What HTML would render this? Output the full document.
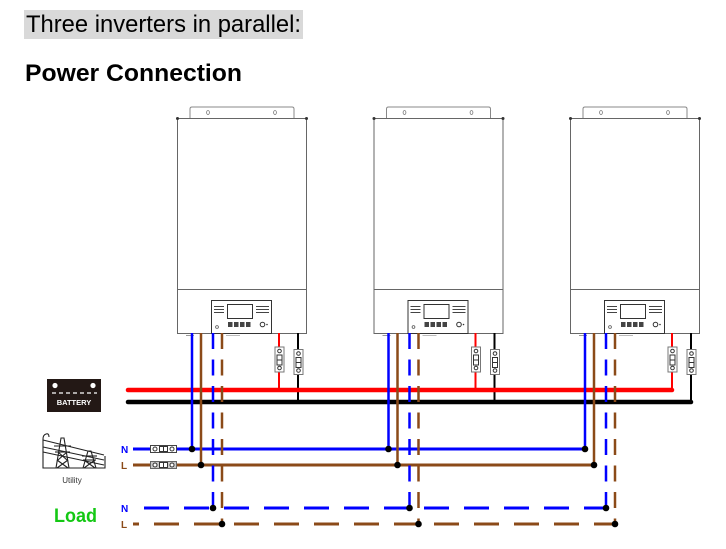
<!DOCTYPE html>
<html><head><meta charset="utf-8"><style>
html,body{margin:0;padding:0;background:#fff;width:726px;height:549px;overflow:hidden}
svg{display:block}
</style></head><body>
<svg width="726" height="549" viewBox="0 0 726 549" xmlns="http://www.w3.org/2000/svg" font-family="'Liberation Sans', sans-serif">
<defs>
<g id="inv">
  <path d="M190,118 V109 Q190,107 192,107 H292 Q294,107 294,109 V118" fill="#fff" stroke="#888" stroke-width="1"/>
  <ellipse cx="208" cy="112.5" rx="1.4" ry="2" fill="none" stroke="#777" stroke-width="0.8"/>
  <ellipse cx="275" cy="112.5" rx="1.4" ry="2" fill="none" stroke="#777" stroke-width="0.8"/>
  <rect x="177.5" y="118.5" width="129" height="215" fill="#fff" stroke="#666" stroke-width="1"/>
  <line x1="177" y1="289.5" x2="307" y2="289.5" stroke="#666" stroke-width="1"/>
  <circle cx="177.5" cy="118.5" r="1.5" fill="#333"/>
  <circle cx="306.5" cy="118.5" r="1.5" fill="#333"/>
  <rect x="211.5" y="300.5" width="60" height="33" fill="#fff" stroke="#333" stroke-width="1"/>
  <rect x="227.5" y="304.5" width="25" height="14" fill="#fff" stroke="#333" stroke-width="1"/>
  <g stroke="#444" stroke-width="1">
    <line x1="214" y1="306.5" x2="224" y2="306.5"/>
    <line x1="214" y1="309.5" x2="224" y2="309.5"/>
    <line x1="214" y1="312.5" x2="224" y2="312.5"/>
    <line x1="256" y1="306.5" x2="269" y2="306.5"/>
    <line x1="256" y1="309.5" x2="269" y2="309.5"/>
    <line x1="256" y1="312.5" x2="269" y2="312.5"/>
  </g>
  <g fill="#444">
    <rect x="228" y="322" width="4.5" height="5"/>
    <rect x="234" y="322" width="4.5" height="5"/>
    <rect x="240" y="322" width="4.5" height="5"/>
    <rect x="246" y="322" width="4.5" height="5"/>
  </g>
  <circle cx="262.5" cy="324.5" r="2.3" fill="none" stroke="#333" stroke-width="1"/>
  <circle cx="267" cy="324.5" r="0.8" fill="#333"/>
  <circle cx="217" cy="327" r="1.4" fill="none" stroke="#555" stroke-width="0.8"/>
  <line x1="186" y1="335.5" x2="194" y2="335.5" stroke="#999" stroke-width="1"/>
  <line x1="226" y1="335.5" x2="240" y2="335.5" stroke="#bbb" stroke-width="1"/>
</g>
<g id="brk">
  <rect x="-4.5" y="0" width="9" height="25" fill="#fff" stroke="#777" stroke-width="1"/>
  <circle cx="0" cy="4" r="1.8" fill="none" stroke="#333" stroke-width="1"/>
  <rect x="-2.5" y="8" width="5" height="10" fill="#fff" stroke="#333" stroke-width="1"/>
  <line x1="-2.5" y1="13" x2="2.5" y2="13" stroke="#333" stroke-width="1"/>
  <circle cx="0" cy="21" r="1.8" fill="none" stroke="#333" stroke-width="1"/>
</g>
</defs>

<!-- Titles -->
<rect x="24" y="10" width="279" height="29" fill="#d9d9d9"/>
<text x="26" y="32" font-size="24" fill="#000" textLength="275" lengthAdjust="spacingAndGlyphs">Three inverters in parallel:</text>
<text x="25" y="81" font-size="24" font-weight="bold" fill="#000" textLength="217" lengthAdjust="spacingAndGlyphs">Power Connection</text>

<!-- Inverters -->
<use href="#inv"/>
<use href="#inv" transform="translate(196.5,0)"/>
<use href="#inv" transform="translate(393,0)"/>

<!-- battery drops -->
<g stroke-width="2">
  <line x1="279" y1="333" x2="279" y2="390" stroke="#f00"/>
  <line x1="298" y1="333" x2="298" y2="402" stroke="#000"/>
  <line x1="475.5" y1="333" x2="475.5" y2="390" stroke="#f00"/>
  <line x1="494.5" y1="333" x2="494.5" y2="402" stroke="#000"/>
  <line x1="672" y1="333" x2="672" y2="390" stroke="#f00"/>
  <line x1="691" y1="333" x2="691" y2="402" stroke="#000"/>
</g>
<use href="#brk" transform="translate(279.5,347)"/>
<use href="#brk" transform="translate(298.5,349.5)"/>
<use href="#brk" transform="translate(476,347)"/>
<use href="#brk" transform="translate(495,349.5)"/>
<use href="#brk" transform="translate(672.5,347)"/>
<use href="#brk" transform="translate(691.5,349.5)"/>

<!-- Buses -->
<line x1="128" y1="390" x2="672" y2="390" stroke="#f00" stroke-width="4.5" stroke-linecap="round"/>
<line x1="128" y1="402" x2="691" y2="402" stroke="#000" stroke-width="4.5" stroke-linecap="round"/>

<!-- Utility N/L -->
<line x1="133" y1="449" x2="586" y2="449" stroke="#0000ff" stroke-width="3"/>
<line x1="133" y1="465" x2="595" y2="465" stroke="#8b4a18" stroke-width="3"/>

<!-- Load N/L dashed -->
<line x1="144" y1="508" x2="609" y2="508" stroke="#0000ff" stroke-width="3" stroke-dasharray="25 15"/>
<line x1="133" y1="524" x2="618" y2="524" stroke="#8b4a18" stroke-width="3" stroke-dasharray="25 15" stroke-dashoffset="19"/>

<!-- Verticals -->
<g stroke-width="2.5">
  <line x1="192" y1="333" x2="192" y2="449" stroke="#0000ff"/>
  <line x1="201" y1="333" x2="201" y2="465" stroke="#8b4a18"/>
  <line x1="213" y1="333" x2="213" y2="508" stroke="#0000ff" stroke-dasharray="16 10.5"/>
  <line x1="222" y1="333" x2="222" y2="524" stroke="#8b4a18" stroke-dasharray="16 10.5"/>

  <line x1="388.5" y1="333" x2="388.5" y2="449" stroke="#0000ff"/>
  <line x1="397.5" y1="333" x2="397.5" y2="465" stroke="#8b4a18"/>
  <line x1="409.5" y1="333" x2="409.5" y2="508" stroke="#0000ff" stroke-dasharray="16 10.5"/>
  <line x1="418.5" y1="333" x2="418.5" y2="524" stroke="#8b4a18" stroke-dasharray="16 10.5"/>

  <line x1="585" y1="333" x2="585" y2="449" stroke="#0000ff"/>
  <line x1="594" y1="333" x2="594" y2="465" stroke="#8b4a18"/>
  <line x1="606" y1="333" x2="606" y2="508" stroke="#0000ff" stroke-dasharray="16 10.5"/>
  <line x1="615" y1="333" x2="615" y2="524" stroke="#8b4a18" stroke-dasharray="16 10.5"/>
</g>

<!-- Junction dots -->
<g fill="#000">
  <circle cx="192" cy="449" r="3.3"/>
  <circle cx="201" cy="465" r="3.3"/>
  <circle cx="213" cy="508" r="3.3"/>
  <circle cx="222" cy="524" r="3.3"/>
  <circle cx="388.5" cy="449" r="3.3"/>
  <circle cx="397.5" cy="465" r="3.3"/>
  <circle cx="409.5" cy="508" r="3.3"/>
  <circle cx="418.5" cy="524" r="3.3"/>
  <circle cx="585" cy="449" r="3.3"/>
  <circle cx="594" cy="465" r="3.3"/>
  <circle cx="606" cy="508" r="3.3"/>
  <circle cx="615" cy="524" r="3.3"/>
</g>

<!-- Utility breakers -->
<g>
  <rect x="150.5" y="445.5" width="26" height="7" fill="#fff" stroke="#444" stroke-width="1"/>
  <circle cx="155" cy="449" r="2" fill="none" stroke="#333" stroke-width="1"/>
  <rect x="159.5" y="446.5" width="8" height="5" fill="#fff" stroke="#333" stroke-width="1"/>
  <line x1="163.5" y1="446.5" x2="163.5" y2="451.5" stroke="#333" stroke-width="1"/>
  <circle cx="172" cy="449" r="2" fill="none" stroke="#333" stroke-width="1"/>

  <rect x="150.5" y="461.5" width="26" height="7" fill="#c8c8c8" stroke="#666" stroke-width="1"/>
  <circle cx="155" cy="465" r="2" fill="#fff" stroke="#333" stroke-width="1"/>
  <rect x="159.5" y="462.5" width="8" height="5" fill="#fff" stroke="#333" stroke-width="1"/>
  <line x1="163.5" y1="462.5" x2="163.5" y2="467.5" stroke="#333" stroke-width="1"/>
  <circle cx="172" cy="465" r="2" fill="#fff" stroke="#333" stroke-width="1"/>
</g>

<!-- N / L labels -->
<g font-size="10" font-weight="bold">
  <text x="121" y="453" fill="#0000ff">N</text>
  <text x="121" y="469" fill="#8b4a18">L</text>
  <text x="121" y="512" fill="#0000ff">N</text>
  <text x="121" y="528" fill="#8b4a18">L</text>
</g>

<!-- Battery icon -->
<rect x="47" y="379" width="54" height="33" fill="#231815"/>
<circle cx="55" cy="385.5" r="2.6" fill="#fff"/>
<circle cx="93" cy="385.5" r="2.6" fill="#fff"/>
<line x1="52" y1="393" x2="97" y2="393" stroke="#fff" stroke-width="1.2" stroke-dasharray="4 3"/>
<text x="74" y="405" font-size="7.5" font-weight="bold" fill="#fff" text-anchor="middle">BATTERY</text>

<!-- Utility icon -->
<g stroke="#222" stroke-width="1.1" fill="none">
  <path d="M46,434 Q43,435 43,439 V468 H105 V456"/>
  <path d="M46,434 Q49,433 49,437"/>
  <line x1="43" y1="440" x2="104" y2="455"/>
  <line x1="43" y1="447" x2="104" y2="460"/>
  <line x1="43" y1="452" x2="104" y2="465"/>
  <!-- pylon 1 -->
  <path d="M56,468 L61,438 H64 L69,468"/>
  <line x1="54" y1="446" x2="71" y2="446"/>
  <line x1="55" y1="452" x2="70" y2="452"/>
  <path d="M58,460 L67,452 M67,460 L58,452 M57,468 L68,460 M68,468 L57,460"/>
  <!-- pylon 2 -->
  <path d="M83,468 L88,451 H91 L96,468"/>
  <line x1="82" y1="456" x2="97" y2="456"/>
  <line x1="83" y1="460" x2="96" y2="460"/>
  <path d="M84,468 L95,460 M95,468 L84,460"/>
</g>
<text x="72" y="483" font-size="8" fill="#333" text-anchor="middle">Utility</text>

<!-- Load -->
<text x="54" y="522" font-size="19" font-weight="bold" fill="#14c814" textLength="43" lengthAdjust="spacingAndGlyphs">Load</text>
</svg>
</body></html>
